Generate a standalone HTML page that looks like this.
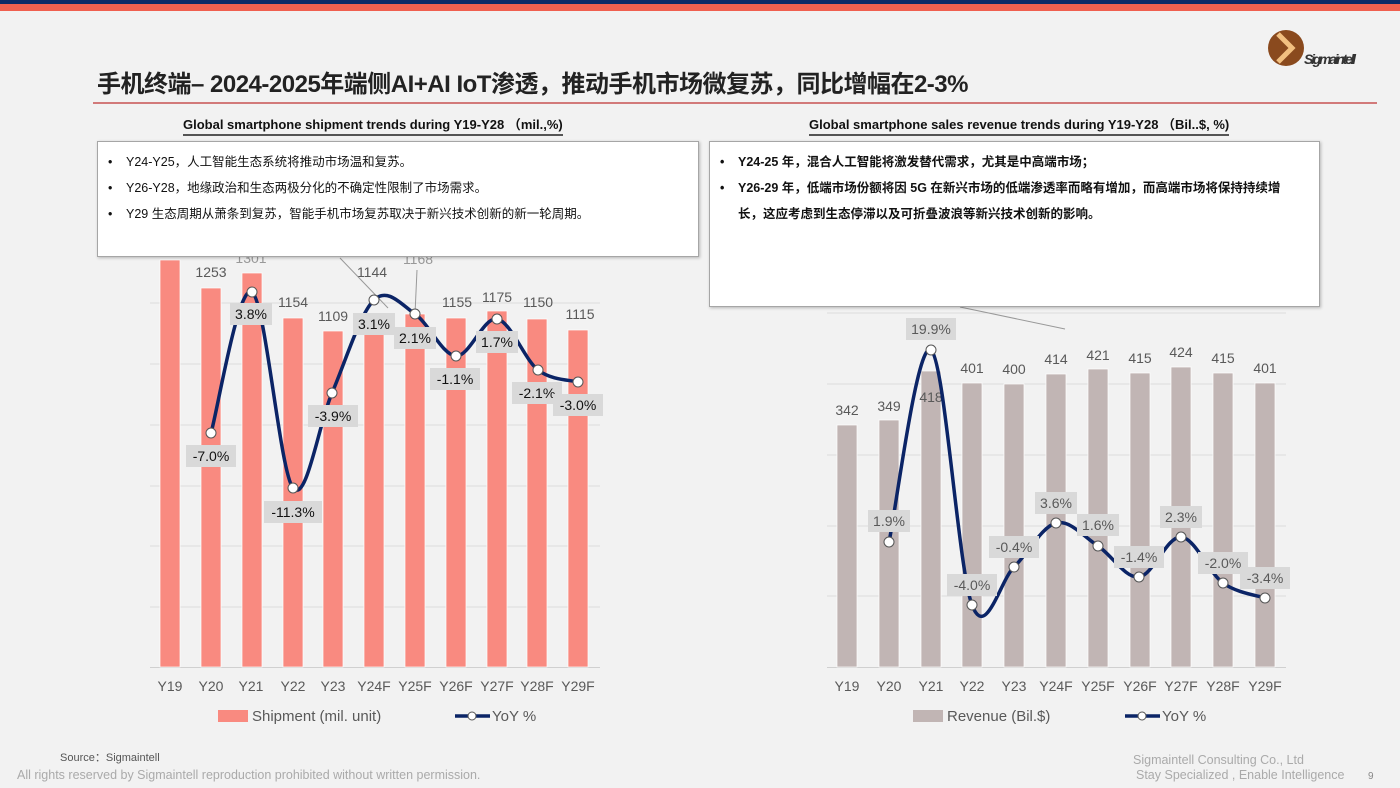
<!DOCTYPE html>
<html><head><meta charset="utf-8">
<style>
body{margin:0;width:1400px;height:788px;background:#f2f2f2;overflow:hidden;font-family:"Liberation Sans","Noto Sans CJK SC",sans-serif;position:relative}
.abs{position:absolute}
.box{position:absolute;background:#fff;border:1px solid #a6a6a6;box-shadow:1px 1px 3px rgba(0,0,0,.25)}
.box ul{margin:0;padding:0 24px 0 10px;list-style:none}
.box li{position:relative;padding-left:18px;font-size:12.5px;line-height:26px;margin:0;color:#111}
.box li:before{content:"•";position:absolute;left:0;top:0}
</style></head><body>
<div class="abs" style="left:0;top:0;width:1400px;height:4px;background:#0e2a66"></div>
<div class="abs" style="left:0;top:4px;width:1400px;height:7px;background:#f0604f"></div>
<div class="abs" style="left:97px;top:64px;font-size:24px;font-weight:bold;color:#222;letter-spacing:-0.5px;white-space:nowrap">手机终端– 2024-2025年端侧AI+AI IoT渗透，推动手机市场微复苏，同比增幅在2-3%</div>
<div class="abs" style="left:93px;top:102px;width:1284px;height:2px;background:#d27a7a"></div>
<svg class="abs" style="left:1266px;top:28px" width="100" height="46"><circle cx="20" cy="20" r="18" fill="#8a4a1e"/><path d="M12 6 L26 20 L12 34" stroke="#f2c080" stroke-width="5" fill="none"/><text x="38" y="36" font-size="14" font-style="italic" font-weight="bold" fill="#333" font-family="Liberation Sans" textLength="52">Sigmaintell</text></svg>
<div class="abs" style="left:183px;top:114px;font-size:13px;font-weight:bold;color:#111;white-space:nowrap;border-bottom:2px solid #555;padding-bottom:1px">Global smartphone shipment trends during Y19-Y28 （mil.,%)</div>
<div class="abs" style="left:809px;top:114px;font-size:13px;font-weight:bold;color:#111;white-space:nowrap;border-bottom:2px solid #555;padding-bottom:1px">Global smartphone sales revenue trends during Y19-Y28 （Bil..$, %)</div>

<svg class="abs" style="left:0;top:0" width="1400" height="788" id="ch">
<g stroke="#dcdcdc" stroke-width="1">
<line x1="150" x2="600" y1="243" y2="243"/><line x1="150" x2="600" y1="303" y2="303"/><line x1="150" x2="600" y1="364" y2="364"/><line x1="150" x2="600" y1="425" y2="425"/><line x1="150" x2="600" y1="486" y2="486"/><line x1="150" x2="600" y1="546" y2="546"/><line x1="150" x2="600" y1="607" y2="607"/>
<line x1="827" x2="1286" y1="313" y2="313"/><line x1="827" x2="1286" y1="384" y2="384"/><line x1="827" x2="1286" y1="455" y2="455"/><line x1="827" x2="1286" y1="526" y2="526"/><line x1="827" x2="1286" y1="596" y2="596"/>
</g>
<line x1="150" x2="600" y1="667.5" y2="667.5" stroke="#d0d0d0"/>
<line x1="827" x2="1286" y1="667.5" y2="667.5" stroke="#d0d0d0"/>
<g fill="#f98a80" stroke="#fff" stroke-width="0.7">
<rect x="160" y="260" width="20" height="407"/><rect x="201" y="288" width="20" height="379"/><rect x="242" y="273" width="20" height="394"/><rect x="283" y="318" width="20" height="349"/><rect x="323" y="331" width="20" height="336"/><rect x="364" y="321" width="20" height="346"/><rect x="405" y="314" width="20" height="353"/><rect x="446" y="318" width="20" height="349"/><rect x="487" y="311" width="20" height="356"/><rect x="527" y="319" width="20" height="348"/><rect x="568" y="330" width="20" height="337"/>
</g>
<g fill="#c1b5b4" stroke="#fff" stroke-width="0.7">
<rect x="837" y="425" width="20" height="242"/><rect x="879" y="420" width="20" height="247"/><rect x="921" y="371" width="20" height="296"/><rect x="962" y="383" width="20" height="284"/><rect x="1004" y="384" width="20" height="283"/><rect x="1046" y="374" width="20" height="293"/><rect x="1088" y="369" width="20" height="298"/><rect x="1130" y="373" width="20" height="294"/><rect x="1171" y="367" width="20" height="300"/><rect x="1213" y="373" width="20" height="294"/><rect x="1255" y="383" width="20" height="284"/>
</g>
<g font-size="14" fill="#595959" text-anchor="middle" font-family="Liberation Sans">
<text x="170" y="248" fill="#aaa">1347</text><text x="211" y="277">1253</text><text x="251" y="263" fill="#999">1301</text><text x="293" y="307">1154</text><text x="333" y="321">1109</text><text x="372" y="277">1144</text><text x="418" y="264" fill="#999">1168</text><text x="457" y="307">1155</text><text x="497" y="302">1175</text><text x="538" y="307">1150</text><text x="580" y="319">1115</text>
<text x="847" y="415">342</text><text x="889" y="411">349</text><text x="931" y="402">418</text><text x="972" y="373">401</text><text x="1014" y="374">400</text><text x="1056" y="364">414</text><text x="1098" y="360">421</text><text x="1140" y="363">415</text><text x="1181" y="357">424</text><text x="1223" y="363">415</text><text x="1265" y="373">401</text>
</g>
<line x1="340" y1="258" x2="388" y2="308" stroke="#999"/><line x1="417" y1="270" x2="415" y2="314" stroke="#999"/>
<line x1="960" y1="307" x2="1065" y2="329" stroke="#999"/>
<path id="l1" d="M211 433 L252 292 L293 488 L332 393 L374 300 L415 314 L456 356 L497 319 L538 370 L578 382" fill="none" stroke="#0b2466" stroke-width="3.5"/>
<path id="l2" d="M889 542 L931 350 L972 605 L1014 567 L1056 523 L1098 546 L1139 577 L1181 537 L1223 583 L1265 598" fill="none" stroke="#0b2466" stroke-width="3.5"/>
<g fill="#fff" stroke="#555" stroke-width="1">
<circle cx="211" cy="433" r="5"/><circle cx="252" cy="292" r="5"/><circle cx="293" cy="488" r="5"/><circle cx="332" cy="393" r="5"/><circle cx="374" cy="300" r="5"/><circle cx="415" cy="314" r="5"/><circle cx="456" cy="356" r="5"/><circle cx="497" cy="319" r="5"/><circle cx="538" cy="370" r="5"/><circle cx="578" cy="382" r="5"/>
<circle cx="889" cy="542" r="5"/><circle cx="931" cy="350" r="5"/><circle cx="972" cy="605" r="5"/><circle cx="1014" cy="567" r="5"/><circle cx="1056" cy="523" r="5"/><circle cx="1098" cy="546" r="5"/><circle cx="1139" cy="577" r="5"/><circle cx="1181" cy="537" r="5"/><circle cx="1223" cy="583" r="5"/><circle cx="1265" cy="598" r="5"/>
</g>
<g id="lbl" font-size="14" text-anchor="middle" font-family="Liberation Sans"></g>
<g font-size="14" fill="#595959" text-anchor="middle" font-family="Liberation Sans">
<text x="170" y="691">Y19</text><text x="211" y="691">Y20</text><text x="251" y="691">Y21</text><text x="293" y="691">Y22</text><text x="333" y="691">Y23</text><text x="374" y="691">Y24F</text><text x="415" y="691">Y25F</text><text x="456" y="691">Y26F</text><text x="497" y="691">Y27F</text><text x="537" y="691">Y28F</text><text x="578" y="691">Y29F</text>
<text x="847" y="691">Y19</text><text x="889" y="691">Y20</text><text x="931" y="691">Y21</text><text x="972" y="691">Y22</text><text x="1014" y="691">Y23</text><text x="1056" y="691">Y24F</text><text x="1098" y="691">Y25F</text><text x="1140" y="691">Y26F</text><text x="1181" y="691">Y27F</text><text x="1223" y="691">Y28F</text><text x="1265" y="691">Y29F</text>
</g>
<rect x="218" y="710" width="30" height="12" fill="#f98a80"/>
<text x="252" y="721" font-size="15" fill="#595959">Shipment (mil. unit)</text>
<line x1="455" x2="490" y1="716" y2="716" stroke="#0b2466" stroke-width="3.5"/><circle cx="472" cy="716" r="4" fill="#fff" stroke="#555"/>
<text x="492" y="721" font-size="15" fill="#595959">YoY %</text>
<rect x="913" y="710" width="30" height="12" fill="#c1b5b4"/>
<text x="947" y="721" font-size="15" fill="#595959">Revenue (Bil.$)</text>
<line x1="1125" x2="1160" y1="716" y2="716" stroke="#0b2466" stroke-width="3.5"/><circle cx="1142" cy="716" r="4" fill="#fff" stroke="#555"/>
<text x="1162" y="721" font-size="15" fill="#595959">YoY %</text>
</svg>

<div class="box" style="left:97px;top:141px;width:602px;height:116px;padding-top:7px;box-sizing:border-box">
<ul><li>Y24-Y25，人工智能生态系统将推动市场温和复苏。</li><li>Y26-Y28，地缘政治和生态两极分化的不确定性限制了市场需求。</li><li>Y29 生态周期从萧条到复苏，智能手机市场复苏取决于新兴技术创新的新一轮周期。</li></ul></div>
<div class="box" style="left:709px;top:141px;width:611px;height:166px;padding-top:7px;box-sizing:border-box">
<ul><li style="font-weight:bold">Y24-25 年，混合人工智能将激发替代需求，尤其是中高端市场；</li><li style="font-weight:bold">Y26-29 年，低端市场份额将因 5G 在新兴市场的低端渗透率而略有增加，而高端市场将保持持续增长，这应考虑到生态停滞以及可折叠波浪等新兴技术创新的影响。</li></ul></div>

<div class="abs" style="left:60px;top:749px;font-size:11px;color:#555">Source：Sigmaintell</div>
<div class="abs" style="left:17px;top:768px;font-size:12.5px;color:#aaa;white-space:nowrap">All rights reserved by Sigmaintell reproduction prohibited without written permission.</div>
<div class="abs" style="left:1133px;top:753px;font-size:12.5px;color:#aaa;white-space:nowrap">Sigmaintell Consulting Co., Ltd</div>
<div class="abs" style="left:1136px;top:768px;font-size:12.5px;color:#aaa;white-space:nowrap">Stay Specialized , Enable Intelligence</div>
<div class="abs" style="left:1368px;top:771px;font-size:10px;color:#888">9</div>
<script>
function smooth(pts){let d="M"+pts[0][0]+" "+pts[0][1];for(let i=0;i<pts.length-1;i++){const p0=pts[i-1]||pts[i],p1=pts[i],p2=pts[i+1],p3=pts[i+2]||p2;const t=6;d+=" C"+(p1[0]+(p2[0]-p0[0])/t)+" "+(p1[1]+(p2[1]-p0[1])/t)+" "+(p2[0]-(p3[0]-p1[0])/t)+" "+(p2[1]-(p3[1]-p1[1])/t)+" "+p2[0]+" "+p2[1];}return d;}
["l1","l2"].forEach(id=>{const e=document.getElementById(id);const pts=e.getAttribute("d").replace(/[ML]/g," ").trim().split(/\s+/).map(Number);const a=[];for(let i=0;i<pts.length;i+=2)a.push([pts[i],pts[i+1]]);e.setAttribute("d",smooth(a));});
const L=[[211,456,"-7.0%"],[251,314,"3.8%"],[293,512,"-11.3%"],[333,416,"-3.9%"],[374,324,"3.1%"],[415,338,"2.1%"],[455,379,"-1.1%"],[497,342,"1.7%"],[537,393,"-2.1%"],[578,405,"-3.0%"],
[889,521,"1.9%"],[931,329,"19.9%"],[972,585,"-4.0%"],[1014,547,"-0.4%"],[1056,503,"3.6%"],[1098,525,"1.6%"],[1139,557,"-1.4%"],[1181,517,"2.3%"],[1223,563,"-2.0%"],[1265,578,"-3.4%"]];
const g=document.getElementById("lbl");const ns="http://www.w3.org/2000/svg";
L.forEach(([x,y,t],i)=>{const w=t.length*8+10;const r=document.createElementNS(ns,"rect");r.setAttribute("x",x-w/2);r.setAttribute("y",y-11);r.setAttribute("width",w);r.setAttribute("height",22);r.setAttribute("fill","#d9d9d9");g.appendChild(r);const tx=document.createElementNS(ns,"text");tx.setAttribute("x",x);tx.setAttribute("y",y+5);tx.setAttribute("fill",i<10?"#111":"#595959");tx.textContent=t;g.appendChild(tx);});
</script>
</body></html>
